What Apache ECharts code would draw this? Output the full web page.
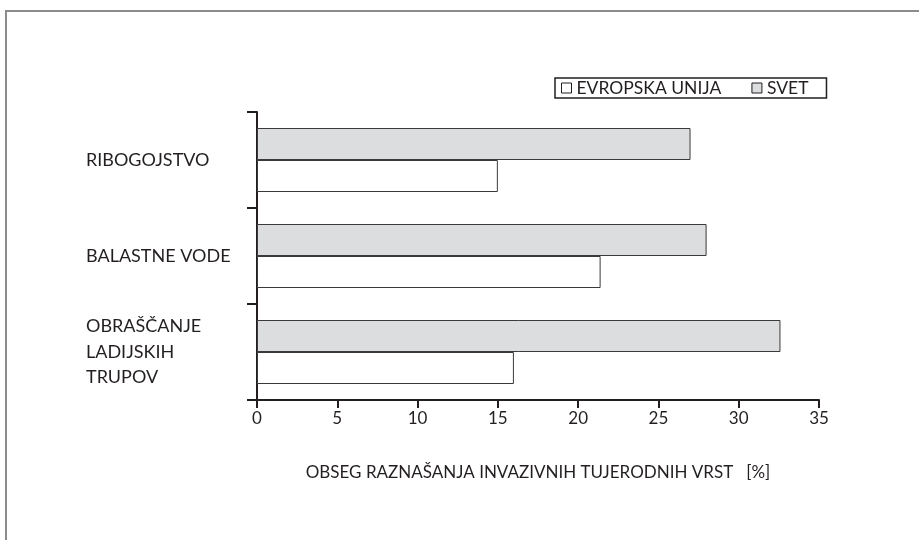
<!DOCTYPE html>
<html>
<head>
<meta charset="utf-8">
<script src="https://cdn.jsdelivr.net/npm/echarts@6/dist/echarts.min.js"></script>
<style>
  html, body { margin: 0; padding: 0; background: #fff; }
  #chart { width: 919px; height: 540px; }
</style>
</head>
<body>
<div id="chart"></div>
<script>
// kategorije od spodaj navzgor (os y raste navzgor)
var categories = ["OBRAŠČANJE\nLADIJSKIH\nTRUPOV", "BALASTNE VODE", "RIBOGOJSTVO"];
var euValues = [16, 21.4, 15];
var svetValues = [32.6, 28, 27];
var xTicks = [0, 5, 10, 15, 20, 25, 30, 35];

var textColor = "#231f20";
var font = "Lato";

var chart = echarts.init(document.getElementById("chart"));
chart.setOption({
  animation: false,
  backgroundColor: "#fff",
  textStyle: { fontFamily: font, color: textColor },
  // okvir slike (zgoraj in levo)
  graphic: [{
    type: "polyline",
    shape: { points: [[6, 540], [6, 11], [919, 11]] },
    style: { stroke: "#8c8c8c", lineWidth: 2, fill: null }
  }],
  legend: {
    left: 555,
    top: 78,
    itemWidth: 10,
    itemHeight: 10,
    itemGap: 30,
    padding: [1, 18, 1, 6],
    borderColor: "#231f20",
    borderWidth: 1.5,
    icon: "rect",
    textStyle: { fontSize: 17.5, color: textColor, fontFamily: font, padding: [0, 0, 0, 0] },
    itemStyle: { borderColor: "#231f20", borderWidth: 1 },
    data: ["EVROPSKA UNIJA", "SVET"]
  },
  grid: { left: 257, right: 100, top: 112, bottom: 140 },
  xAxis: {
    type: "value",
    min: xTicks[0],
    max: xTicks[xTicks.length - 1],
    interval: 5,
    name: "OBSEG RAZNAŠANJA INVAZIVNIH TUJERODNIH VRST   [%]",
    nameLocation: "middle",
    nameGap: 64,
    nameTextStyle: { fontSize: 17, color: textColor },
    axisLine: { show: true, lineStyle: { color: textColor, width: 2 } },
    axisTick: { show: true, length: 8, lineStyle: { color: textColor, width: 2 } },
    axisLabel: { fontSize: 17, color: textColor, margin: 10 },
    splitLine: { show: false }
  },
  yAxis: {
    type: "category",
    data: categories,
    axisLine: { show: true, lineStyle: { color: textColor, width: 2 } },
    axisTick: { show: true, length: 10, lineStyle: { color: textColor, width: 2 } },
    axisLabel: {
      fontSize: 18,
      color: textColor,
      align: "left",
      margin: 171,
      lineHeight: 25.5
    }
  },
  // SVET je prva serija, da je zgoraj v vsaki skupini
  series: [{
    name: "SVET",
    type: "bar",
    data: svetValues,
    barWidth: 32,
    barGap: "0%",
    itemStyle: { color: "#dcdddf", borderColor: "#3a3a3a", borderWidth: 1 }
  }, {
    name: "EVROPSKA UNIJA",
    type: "bar",
    data: euValues,
    barWidth: 32,
    barGap: "0%",
    itemStyle: { color: "#ffffff", borderColor: "#3a3a3a", borderWidth: 1 }
  }]
});
</script>
</body>
</html>
